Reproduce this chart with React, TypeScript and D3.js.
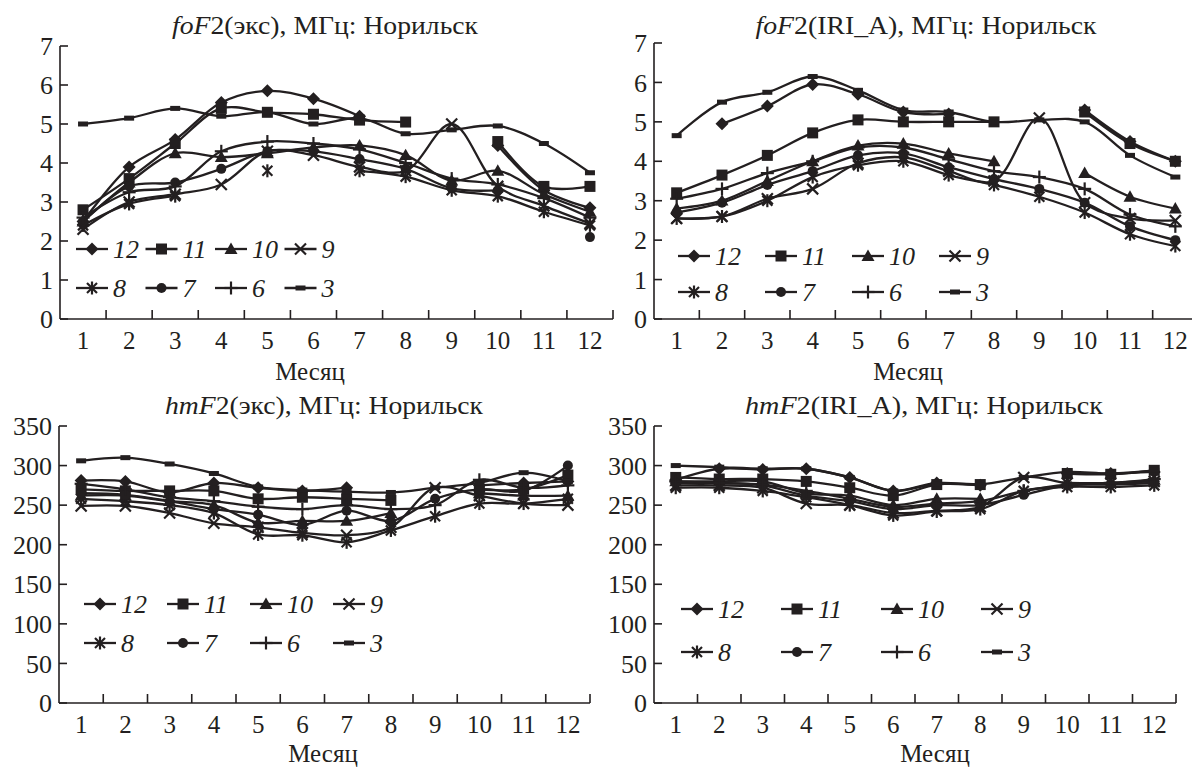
import React from "react";
import * as d3 from "d3";

type V = number | null;

const months = [1, 2, 3, 4, 5, 6, 7, 8, 9, 10, 11, 12];
const seriesLabels = ["12", "11", "10", "9", "8", "7", "6", "3"];
const markerKinds = ["diamond", "square", "triangle", "cross", "asterisk", "circle", "plus", "dash"];
const foF2Ticks = [0, 1, 2, 3, 4, 5, 6, 7];
const hmF2Ticks = [0, 50, 100, 150, 200, 250, 300, 350];

// foF2 (experiment), MHz — series order follows seriesLabels
const foF2Exp: V[][] = [
  [2.5, 3.9, 4.6, 5.55, 5.85, 5.65, 5.2, null, null, 4.45, 3.3, 2.85],
  [2.8, 3.6, 4.5, 5.4, 5.3, 5.25, 5.1, 5.05, null, 4.55, 3.4, 3.4],
  [2.5, 3.5, 4.25, 4.15, 4.25, 4.4, 4.45, 4.2, 3.55, 3.8, 3.2, 2.75],
  [2.3, 3.0, 3.2, 3.45, 4.3, 4.2, 3.9, 3.8, 5.0, 3.4, 2.9, 2.45],
  [2.4, 2.95, 3.15, null, 3.8, null, 3.8, 3.65, 3.3, 3.15, 2.75, 2.4],
  [2.5, 3.4, 3.5, 3.85, 4.3, 4.3, 4.1, 3.85, 3.35, 3.3, null, 2.1],
  [2.6, 3.25, 3.4, 4.3, 4.55, 4.5, 4.35, 4.0, 3.6, 3.45, 3.1, 2.6],
  [5.0, 5.15, 5.4, 5.2, 5.3, 5.0, 5.15, 4.75, 4.85, 4.95, 4.5, 3.75],
];

// foF2 (IRI_A), MHz
const foF2Iri: V[][] = [
  [null, 4.95, 5.4, 5.95, 5.7, 5.25, 5.2, null, null, 5.3, 4.5, 4.0],
  [3.2, 3.65, 4.15, 4.72, 5.05, 5.0, 5.0, 5.0, null, 5.25, 4.45, 4.0],
  [2.8, 3.0, 3.5, 4.0, 4.4, 4.45, 4.2, 4.0, null, 3.7, 3.1, 2.8],
  [2.55, 2.6, 3.05, 3.3, 3.95, 4.1, 3.75, 3.5, 5.1, 2.95, 2.55, 2.5],
  [2.55, 2.6, 3.0, 3.6, 3.9, 4.0, 3.65, 3.4, 3.1, 2.7, 2.15, 1.85],
  [2.7, 2.95, 3.4, 3.75, 4.15, 4.2, 3.85, 3.55, 3.3, 2.95, 2.35, 2.0],
  [3.05, 3.3, 3.7, 4.0, 4.35, 4.35, 4.05, 3.75, 3.6, 3.3, 2.65, 2.35],
  [4.65, 5.5, 5.75, 6.15, 5.8, 5.3, 5.25, 5.0, 5.05, 5.0, 4.15, 3.6],
];

// hmF2 (experiment), km
const hmF2Exp: V[][] = [
  [281, 280, 266, 278, 272, 268, 272, null, null, 275, 278, 280],
  [270, 268, 268, 268, 258, 260, 258, 256, null, 270, 270, 288],
  [262, 262, 255, 250, 228, 230, 230, 240, null, 265, 262, 262],
  [249, 249, 240, 227, 222, 215, 212, 222, 272, 262, 252, 250],
  [258, 255, 250, 240, 213, 212, 203, 218, 236, 252, 252, 258],
  [265, 263, 255, 245, 238, 225, 243, 230, 258, 270, 268, 300],
  [277, 270, 260, 255, 248, 245, 250, 245, 250, 282, 272, 275],
  [306, 310, 302, 290, 273, 269, 267, 266, 272, 278, 291, 280],
];

// hmF2 (IRI_A), km
const hmF2Iri: V[][] = [
  [282, 296, 295, 296, 285, 268, 278, 275, null, 290, 290, 292],
  [285, 283, 283, 280, 272, 262, 276, 276, null, 290, 289, 294],
  [280, 280, 280, 265, 262, 250, 258, 258, null, 278, 278, 282],
  [275, 275, 272, 252, 250, 240, 243, 248, 285, 278, 278, 280],
  [272, 272, 268, 260, 250, 237, 242, 245, 268, 273, 273, 275],
  [278, 278, 275, 262, 255, 245, 250, 250, 263, 275, 276, 278],
  [280, 278, 276, 268, 258, 248, 252, 255, 268, 276, 278, 283],
  [300, 298, 296, 296, 285, 268, 277, 276, 285, 292, 290, 294],
];

const INK = "#231f20";
const FONT = "'Liberation Serif', 'DejaVu Serif', serif";

function Marker({ kind, x, y }: { kind: string; x: number; y: number }) {
  const sw = 2.2;
  switch (kind) {
    case "diamond": {
      const s = 6.5;
      return <polygon points={`${x},${y - s} ${x + s},${y} ${x},${y + s} ${x - s},${y}`} fill={INK} />;
    }
    case "square": {
      const s = 5.5;
      return <rect x={x - s} y={y - s} width={2 * s} height={2 * s} fill={INK} />;
    }
    case "triangle": {
      const s = 6.5;
      return <polygon points={`${x},${y - s} ${x + s},${y + s * 0.75} ${x - s},${y + s * 0.75}`} fill={INK} />;
    }
    case "cross": {
      const s = 5.5;
      return (
        <g stroke={INK} strokeWidth={sw}>
          <line x1={x - s} y1={y - s} x2={x + s} y2={y + s} />
          <line x1={x - s} y1={y + s} x2={x + s} y2={y - s} />
        </g>
      );
    }
    case "asterisk": {
      const s = 5;
      return (
        <g stroke={INK} strokeWidth={sw}>
          <line x1={x - s} y1={y - s} x2={x + s} y2={y + s} />
          <line x1={x - s} y1={y + s} x2={x + s} y2={y - s} />
          <line x1={x} y1={y - s - 1.5} x2={x} y2={y + s + 1.5} />
        </g>
      );
    }
    case "circle":
      return <circle cx={x} cy={y} r={5} fill={INK} />;
    case "plus": {
      const s = 6.5;
      return (
        <g stroke={INK} strokeWidth={sw}>
          <line x1={x - s} y1={y} x2={x + s} y2={y} />
          <line x1={x} y1={y - s} x2={x} y2={y + s} />
        </g>
      );
    }
    default:
      return <rect x={x - 5} y={y - 2.5} width={10} height={5} fill={INK} />;
  }
}

type PanelProps = {
  data: V[][];
  ticks: number[];
  x0: number;
  x1: number;
  yBottom: number;
  yTop: number;
  titleItalic: string;
  titleRest: string;
  titleX: number;
  titleY: number;
  titleW: number;
  xLabelX: number;
  xLabelY: number;
  legX: number;
  legStep: number;
  legRows: [number, number];
};

const textStyle = { fontFamily: FONT };

function Panel(p: PanelProps) {
  const x = d3.scaleBand<number>().domain(months).range([p.x0, p.x1]);
  const y = d3.scaleLinear().domain([0, p.ticks[p.ticks.length - 1]]).range([p.yBottom, p.yTop]);
  const cx = (m: number) => (x(m) as number) + x.bandwidth() / 2;
  const line = d3
    .line<V>()
    .defined((d) => d !== null)
    .x((_, i) => cx(months[i]))
    .y((d) => y(d as number))
    .curve(d3.curveCatmullRom.alpha(0.5));
  const boundaries = months.map((m) => (x(m) as number) + x.bandwidth());

  return (
    <g fill={INK} style={textStyle}>
      <text
        x={p.titleX - p.titleW / 2}
        y={p.titleY}
        fontSize={25}
        textLength={p.titleW}
        lengthAdjust="spacingAndGlyphs"
        style={textStyle}
      >
        <tspan fontStyle="italic">{p.titleItalic}</tspan>
        <tspan>{p.titleRest}</tspan>
      </text>
      <line x1={p.x0} y1={p.yBottom} x2={p.x1} y2={p.yBottom} stroke={INK} strokeWidth={1.6} />
      <line x1={p.x0} y1={p.yBottom} x2={p.x0} y2={p.yTop} stroke={INK} strokeWidth={1.6} />
      {p.ticks.map((t) => (
        <g key={t}>
          <line x1={p.x0} x2={p.x0 + 8} y1={y(t)} y2={y(t)} stroke={INK} strokeWidth={1.6} />
          <text x={p.x0 - 7} y={y(t)} dy="0.35em" textAnchor="end" fontSize={26} style={textStyle}>
            {t}
          </text>
        </g>
      ))}
      {boundaries.map((b, i) => (
        <line key={i} x1={b} x2={b} y1={p.yBottom} y2={p.yBottom - 9} stroke={INK} strokeWidth={1.6} />
      ))}
      {months.map((m) => (
        <text key={m} x={cx(m)} y={p.yBottom + 30} textAnchor="middle" fontSize={25} style={textStyle}>
          {m}
        </text>
      ))}
      <text x={p.xLabelX} y={p.xLabelY} textAnchor="middle" fontSize={25} style={textStyle}>
        Месяц
      </text>
      {p.data.map((s, si) => (
        <g key={si}>
          <path d={line(s) || ""} fill="none" stroke={INK} strokeWidth={2.3} />
          {s.map((v, i) =>
            v === null ? null : <Marker key={i} kind={markerKinds[si]} x={cx(months[i])} y={y(v)} />
          )}
        </g>
      ))}
      {seriesLabels.map((lab, i) => {
        const row = Math.floor(i / 4);
        const col = i % 4;
        const lx = p.legX + col * p.legStep;
        const ly = p.legRows[row];
        return (
          <g key={lab}>
            <line x1={lx} x2={lx + 32} y1={ly} y2={ly} stroke={INK} strokeWidth={2.3} />
            <Marker kind={markerKinds[i]} x={lx + 16} y={ly} />
            <text x={lx + 37} y={ly} dy="0.35em" fontSize={26} fontStyle="italic" style={textStyle}>
              {lab}
            </text>
          </g>
        );
      })}
    </g>
  );
}

export default function App() {
  return (
    <svg width={1192} height={767} style={{ position: "absolute", left: 0, top: 0, background: "#fff" }}>
      <rect width={1192} height={767} fill="#fff" />
      <Panel
        data={foF2Exp}
        ticks={foF2Ticks}
        x0={60}
        x1={613}
        yBottom={319}
        yTop={46}
        titleItalic="foF"
        titleRest="2(экс), МГц: Норильск"
        titleX={325}
        titleY={34}
        titleW={306}
        xLabelX={310}
        xLabelY={380}
        legX={76}
        legStep={69.5}
        legRows={[249, 288]}
      />
      <Panel
        data={foF2Iri}
        ticks={foF2Ticks}
        x0={654}
        x1={1198}
        yBottom={319}
        yTop={43}
        titleItalic="foF"
        titleRest="2(IRI_A), МГц: Норильск"
        titleX={926}
        titleY={34}
        titleW={341}
        xLabelX={908}
        xLabelY={380}
        legX={678}
        legStep={87}
        legRows={[256, 292]}
      />
      <Panel
        data={hmF2Exp}
        ticks={hmF2Ticks}
        x0={59}
        x1={590}
        yBottom={703}
        yTop={426}
        titleItalic="hmF"
        titleRest="2(экс), МГц: Норильск"
        titleX={324}
        titleY={414}
        titleW={318}
        xLabelX={323}
        xLabelY={762}
        legX={84}
        legStep={83}
        legRows={[604, 643]}
      />
      <Panel
        data={hmF2Iri}
        ticks={hmF2Ticks}
        x0={654}
        x1={1176}
        yBottom={703}
        yTop={426}
        titleItalic="hmF"
        titleRest="2(IRI_A), МГц: Норильск"
        titleX={924}
        titleY={414}
        titleW={358}
        xLabelX={935}
        xLabelY={762}
        legX={681}
        legStep={100}
        legRows={[609, 652]}
      />
    </svg>
  );
}
